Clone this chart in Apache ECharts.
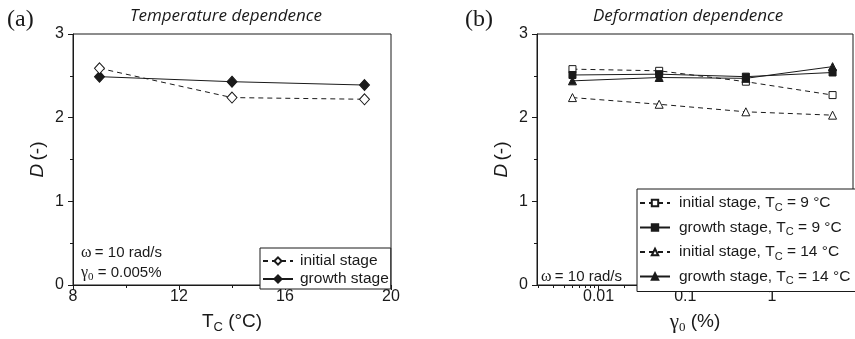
<!DOCTYPE html>
<html>
<head>
<meta charset="utf-8">
<script src="https://cdn.jsdelivr.net/npm/echarts@6/dist/echarts.min.js"></script>
<style>html,body{margin:0;padding:0;background:#fff}#c{width:855px;height:339px}</style>
</head>
<body>
<div id="c"></div>
<script>
// ---- data ----
const tempC = [9, 14, 19];
const dInitialTemp = [2.59, 2.24, 2.22];
const dGrowthTemp = [2.49, 2.43, 2.39];

const strainPct = [0.005, 0.05, 0.5, 5];
const dInitial9 = [2.58, 2.56, 2.43, 2.27];
const dGrowth9 = [2.51, 2.52, 2.49, 2.54];
const dInitial14 = [2.24, 2.16, 2.07, 2.03];
const dGrowth14 = [2.44, 2.48, 2.47, 2.61];

const yTickValues = [0, 1, 2, 3];
const tempTickValues = [8, 12, 16, 20];
const strainTickLabels = [0.01, 0.1, 1];
const strainMinorTicks = [0.002,0.003,0.004,0.005,0.006,0.007,0.008,0.009,
  0.02,0.03,0.04,0.05,0.06,0.07,0.08,0.09,
  0.2,0.3,0.4,0.5,0.6,0.7,0.8,0.9,
  2,3,4,5,6,7,8];

const legendNamesA = ['initial stage', 'growth stage'];
const legendNamesB = ['initial stage, T_C = 9 °C','growth stage, T_C = 9 °C','initial stage, T_C = 14 °C','growth stage, T_C = 14 °C'];

// ---- chart ----
const FONT = '"Liberation Sans", Arial, sans-serif';
const SERIF = '"Liberation Serif", "Times New Roman", serif';
const INK = '#1a1a1a';
const pair = (xs, ys) => xs.map((x, i) => [x, ys[i]]);

const axisCommonY = (gridIndex) => ({
  type: 'value', gridIndex, min: yTickValues[0], max: yTickValues[yTickValues.length - 1], interval: 1,
  axisLine: {show: true, lineStyle: {color: INK, width: 1}},
  axisTick: {show: true, length: 5, lineStyle: {color: INK}},
  minorTick: {show: true, splitNumber: 2, length: 3, lineStyle: {color: INK}},
  splitLine: {show: false},
  axisLabel: {color: INK, fontSize: 16, fontFamily: FONT, margin: 9},
  name: '{i|D} {n|(-)}', nameLocation: 'middle', nameRotate: 90, nameGap: 26,
  nameTextStyle: {rich: {
    i: {fontStyle: 'italic', fontSize: 19, fontFamily: FONT, color: INK},
    n: {fontSize: 19, fontFamily: FONT, color: INK}
  }}
});

const openStyle = {color: '#fff', borderColor: INK, borderWidth: 1};
const fillStyle = {color: INK, borderColor: INK, borderWidth: 1};
const dashed = {color: INK, width: 1, type: [5, 4]};
const solid = {color: INK, width: 1, type: 'solid'};

const legendRich = {
  t: {fontSize: 15.5, fontFamily: FONT, color: INK, lineHeight: 20},
  s: {fontSize: 11, fontFamily: FONT, color: INK, verticalAlign: 'bottom', lineHeight: 11}
};

const option = {
  animation: false,
  grid: [
    {left: 73, right: 464, top: 34, bottom: 49, show: true, borderColor: INK, borderWidth: 1, backgroundColor: 'transparent'},
    {left: 537, right: 2, top: 34, bottom: 49, show: true, borderColor: INK, borderWidth: 1, backgroundColor: 'transparent'}
  ],
  xAxis: [
    {
      type: 'value', gridIndex: 0, min: tempTickValues[0], max: tempTickValues[tempTickValues.length - 1], interval: 4,
      axisLine: {show: true, lineStyle: {color: INK}},
      axisTick: {show: true, length: 5, lineStyle: {color: INK}},
      minorTick: {show: true, splitNumber: 2, length: 3, lineStyle: {color: INK}},
      splitLine: {show: false},
      axisLabel: {color: INK, fontSize: 16, fontFamily: FONT, margin: 4},
      name: '{a|T}{s|C}{a| (°C)}', nameLocation: 'middle', nameGap: 25,
      nameTextStyle: {rich: {
        a: {fontSize: 19, fontFamily: FONT, color: INK, lineHeight: 24},
        s: {fontSize: 13, fontFamily: FONT, color: INK, verticalAlign: 'bottom', lineHeight: 13}
      }}
    },
    {
      type: 'log', gridIndex: 1, min: 0.00195, max: 8.6, position: 'bottom',
      axisLine: {show: true, lineStyle: {color: INK}},
      axisTick: {show: true, length: 5, lineStyle: {color: INK}, customValues: strainTickLabels},
      splitLine: {show: false},
      minorTick: {show: false},
      axisLabel: {color: INK, fontSize: 16, fontFamily: FONT, margin: 4, customValues: strainTickLabels,
        formatter: v => String(v)},
      name: '{g|γ}{s|0}{a| (%)}', nameLocation: 'middle', nameGap: 25,
      nameTextStyle: {rich: {
        g: {fontSize: 21, fontFamily: SERIF, color: INK, lineHeight: 24},
        a: {fontSize: 19, fontFamily: FONT, color: INK, lineHeight: 24},
        s: {fontSize: 13, fontFamily: SERIF, color: INK, verticalAlign: 'bottom', lineHeight: 13}
      }}
    },
    {
      type: 'log', gridIndex: 1, min: 0.00195, max: 8.6, position: 'bottom', offset: 0,
      axisLine: {show: false},
      axisTick: {show: true, length: 3, lineStyle: {color: INK}, customValues: strainMinorTicks},
      axisLabel: {show: false},
      splitLine: {show: false}
    }
  ],
  yAxis: [axisCommonY(0), axisCommonY(1)],
  legend: [
    {
      data: legendNamesA,
      left: 260, top: 248, orient: 'vertical',
      borderColor: INK, borderWidth: 1, backgroundColor: '#fff',
      padding: [5, 2, 2, 2], itemGap: 2, itemWidth: 30, itemHeight: 9,
      textStyle: {fontSize: 15.5, fontFamily: FONT, color: INK, lineHeight: 16, padding: [0, 0, 0, 2]}
    },
    {
      data: legendNamesB,
      left: 637, top: 189, orient: 'vertical',
      borderColor: INK, borderWidth: 1, backgroundColor: '#fff',
      padding: [6, 10, 5, 2], itemGap: 6.5, itemWidth: 30, itemHeight: 8,
      formatter: name => {
        const parts = name.split('T_C');
        return '{t|' + parts[0] + 'T}{s|C}{t|' + parts[1] + '}';
      },
      textStyle: {fontSize: 15.5, fontFamily: FONT, color: INK, padding: [0, 0, 0, 4], rich: legendRich}
    }
  ],
  series: [
    {name: legendNamesA[0], type: 'line', xAxisIndex: 0, yAxisIndex: 0, data: pair(tempC, dInitialTemp),
      symbol: 'diamond', symbolSize: [10, 11], itemStyle: openStyle, lineStyle: dashed, z: 3},
    {name: legendNamesA[1], type: 'line', xAxisIndex: 0, yAxisIndex: 0, data: pair(tempC, dGrowthTemp),
      symbol: 'diamond', symbolSize: [10, 11], itemStyle: fillStyle, lineStyle: solid, z: 2},
    {name: legendNamesB[0], type: 'line', xAxisIndex: 1, yAxisIndex: 1, data: pair(strainPct, dInitial9),
      symbol: 'rect', symbolSize: 7, itemStyle: openStyle, lineStyle: dashed, z: 3},
    {name: legendNamesB[1], type: 'line', xAxisIndex: 1, yAxisIndex: 1, data: pair(strainPct, dGrowth9),
      symbol: 'rect', symbolSize: 7, itemStyle: fillStyle, lineStyle: solid, z: 4},
    {name: legendNamesB[2], type: 'line', xAxisIndex: 1, yAxisIndex: 1, data: pair(strainPct, dInitial14),
      symbol: 'triangle', symbolSize: 8, itemStyle: openStyle, lineStyle: dashed, z: 3},
    {name: legendNamesB[3], type: 'line', xAxisIndex: 1, yAxisIndex: 1, data: pair(strainPct, dGrowth14),
      symbol: 'triangle', symbolSize: 8, itemStyle: fillStyle, lineStyle: solid, z: 3}
  ],
  graphic: [
    {type: 'text', left: 7, top: 8, style: {text: '(a)', font: '24px ' + SERIF, fill: INK}},
    {type: 'text', left: 465, top: 8, style: {text: '(b)', font: '24px ' + SERIF, fill: INK}},
    {type: 'text', left: 130, top: 8, style: {text: 'Temperature dependence', font: 'italic 17px "Open Sans", sans-serif', fill: INK}},
    {type: 'text', left: 593, top: 8, style: {text: 'Deformation dependence', font: 'italic 17px "Open Sans", sans-serif', fill: INK}},
    {type: 'text', left: 81, top: 245, style: {text: '{g|ω} {a|= 10 rad/s}', rich: {
      g: {fontSize: 16, fontFamily: SERIF, fill: INK}, a: {fontSize: 15, fontFamily: FONT, fill: INK}}}},
    {type: 'text', left: 81, top: 265, style: {text: '{g|γ}{s|0}{a| = 0.005%}', rich: {
      g: {fontSize: 16, fontFamily: SERIF, fill: INK, lineHeight: 20}, s: {fontSize: 11, fontFamily: SERIF, fill: INK, verticalAlign: 'bottom', lineHeight: 11},
      a: {fontSize: 15, fontFamily: FONT, fill: INK, lineHeight: 20}}}},
    {type: 'text', left: 541, top: 269, style: {text: '{g|ω} {a|= 10 rad/s}', rich: {
      g: {fontSize: 16, fontFamily: SERIF, fill: INK}, a: {fontSize: 15, fontFamily: FONT, fill: INK}}}}
  ]
};

const chart = echarts.init(document.getElementById('c'), null, {renderer: 'canvas'});
chart.setOption(option);
</script>
</body>
</html>
